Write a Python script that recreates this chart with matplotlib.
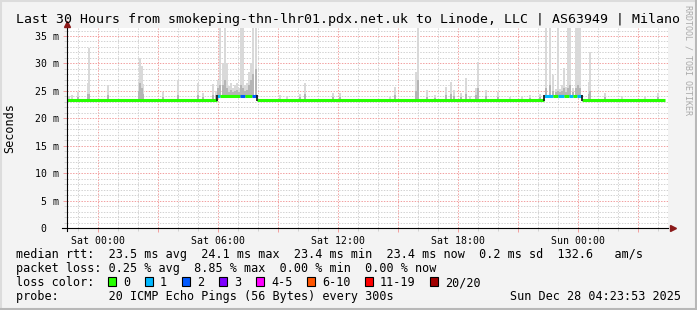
import numpy as np
import matplotlib
matplotlib.use("Agg")
import matplotlib.pyplot as plt
from matplotlib.patches import Rectangle
from matplotlib.lines import Line2D

MONO = "DejaVu Sans Mono"
W, H = 697, 310

TITLE = "Last 30 Hours from smokeping-thn-lhr01.pdx.net.uk to Linode, LLC | AS63949 | Milano"

# time axis: hours relative to Sat 00:00
X_MIN, X_MAX = -1.55, 28.5
XTICK_HOURS = [0, 6, 12, 18, 24]
XTICK_LABELS = ["Sat 00:00", "Sat 06:00", "Sat 12:00", "Sat 18:00", "Sun 00:00"]
YTICK_VALUES = [0, 5, 10, 15, 20, 25, 30, 35]
YTICK_LABELS = ["0  ", "5 m", "10 m", "15 m", "20 m", "25 m", "30 m", "35 m"]

# median rtt (ms) as steps, with loss class index
seg_start = [-1.55, 5.95, 6.10, 7.10, 7.35, 7.70, 7.95,
             22.30, 22.75, 23.00, 23.30, 23.55, 23.75, 23.95, 24.20]
seg_end   = [5.95, 6.10, 7.10, 7.35, 7.70, 7.95, 22.30,
             22.75, 23.00, 23.30, 23.55, 23.75, 23.95, 24.20, 28.35]
seg_rtt   = [23.4, 24.0, 24.0, 24.0, 24.0, 24.0, 23.4,
             24.0, 24.0, 24.0, 24.0, 24.0, 24.0, 24.0, 23.4]
seg_loss  = [0, 1, 0, 2, 0, 2, 0,
             1, 0, 1, 0, 1, 0, 1, 0]

# smoke (spread of the 20 pings per sample)
smoke_hour = [-1.45, -1.3, -1.0, -0.5, -0.43, 0.5, 2.05, 2.12, 2.2, 2.25, 3.25, 4.0, 5.0, 5.25, 5.75, 5.88,
              6.0, 6.12, 6.25, 6.35, 6.45, 6.55, 6.65, 6.75, 6.85, 6.95, 7.05, 7.15, 7.25, 7.35, 7.45, 7.55,
              7.65, 7.75, 7.88,
              9.1, 9.45, 10.1, 10.35, 11.75, 12.1, 14.6, 14.85, 15.9, 16.0, 16.45, 16.85, 17.4, 17.65, 17.8,
              18.15, 18.4, 18.6, 18.9, 19.0, 19.4, 20.0, 20.6, 21.2, 21.6, 22.1,
              22.4, 22.6, 22.75, 22.88, 22.98, 23.1, 23.22, 23.3, 23.4, 23.5, 23.6, 23.75, 23.9, 24.0, 24.12,
              24.55, 24.62, 25.35, 26.2, 27.35, 28.0]
smoke_max = [24.1, 24.2, 24.8, 26.4, 32.8, 26.0, 26.5, 30.9, 29.5, 26.2, 24.8, 26.9, 26.4, 24.7, 26.2, 25.0,
             27.0, 37, 30.0, 37, 30.0, 25.8, 26.5, 25.5, 26.0, 26.5, 25.5, 37, 37, 26.0, 26.5, 28.5,
             30.0, 37, 37,
             24.2, 24.1, 24.5, 26.4, 24.6, 24.6, 23.9, 25.7, 28.4, 37, 25.1, 24.3, 25.7, 26.6, 25.2,
             24.7, 27.3, 24.0, 25.6, 30.2, 25.1, 24.8, 23.9, 24.1, 24.3, 24.5,
             37, 37, 27.9, 25.3, 37, 25.4, 26.0, 29.2, 25.7, 37, 37, 25.5, 37, 37, 37,
             26.6, 32.0, 24.7, 24.0, 24.0, 24.6]
smoke_mid = [23.6, 23.6, 23.8, 24.5, 24.5, 24.2, 25.0, 26.5, 25.5, 24.5, 23.8, 24.2, 24.3, 23.8, 24.2, 24.2,
             25.5, 26.0, 26.0, 27.0, 25.5, 24.8, 25.2, 24.8, 25.0, 25.2, 24.8, 26.0, 25.5, 25.0, 25.2, 26.0,
             27.0, 28.0, 29.0,
             23.6, 23.6, 23.8, 24.5, 23.8, 23.8, 23.6, 24.3, 25.0, 27.0, 23.9, 23.7, 24.2, 24.5, 24.0,
             23.8, 24.5, 23.6, 24.2, 25.5, 24.0, 23.9, 23.6, 23.6, 23.7, 23.8,
             25.5, 26.0, 25.0, 24.8, 25.0, 24.8, 25.0, 25.5, 24.8, 25.5, 26.0, 24.8, 25.5, 26.0, 25.5,
             24.5, 25.0, 23.8, 23.6, 23.6, 23.8]

LOSS_LABELS = ["0", "1", "2", "3", "4-5", "6-10", "11-19", "20/20"]
LOSS_COLORS = ["#26ff00", "#00b8ff", "#0059ff", "#7e00ff", "#ff00ff", "#ff5500", "#ff0000", "#a10000"]

STATS_RTT = "median rtt:  23.5 ms avg  24.1 ms max  23.4 ms min  23.4 ms now  0.2 ms sd  132.6   am/s"
STATS_LOSS = "packet loss: 0.25 % avg  8.85 % max  0.00 % min  0.00 % now"
PROBE = "probe:       20 ICMP Echo Pings (56 Bytes) every 300s"
STAMP = "Sun Dec 28 04:23:53 2025"


def median_at(h):
    for s, e, v in zip(seg_start, seg_end, seg_rtt):
        if s <= h < e:
            return v
    return seg_rtt[-1]


def fy(y):
    return 1 - y / H


def main():
    fig = plt.figure(figsize=(W / 100, H / 100), dpi=100, facecolor="#f3f3f3")
    ax = fig.add_axes([67 / W, fy(228), (668 - 67) / W, 200 / H])
    ax.set_facecolor("white")
    ax.set_xlim(X_MIN, X_MAX)
    ax.set_ylim(0, 36.46)

    # grid
    maj_x = np.arange(0, 28, 3)
    ax.set_xticks(maj_x)
    ax.set_xticklabels([XTICK_LABELS[XTICK_HOURS.index(h)] if h in XTICK_HOURS else "" for h in maj_x],
                       family=MONO, fontsize=7.1)
    ax.set_xticks(np.arange(-1, 29, 1), minor=True)
    ax.set_yticks(YTICK_VALUES)
    ax.set_yticklabels(YTICK_LABELS, family=MONO, fontsize=7.1)
    ax.set_yticks(np.arange(0, 37, 1), minor=True)
    ax.grid(which="major", color="#f2a0a0", lw=0.72, ls=(0, (1.4, 1.4)))
    ax.grid(which="minor", color="#d2d2d2", lw=0.72, ls=(0, (1.4, 1.4)))
    ax.set_axisbelow(True)
    ax.tick_params(which="major", length=3, width=0.72, color="#f2a0a0", labelcolor="black")
    ax.tick_params(which="minor", length=2, width=0.72, color="#d2d2d2")
    ax.tick_params(axis="x", pad=3)
    ax.tick_params(axis="y", pad=3)
    for sp in ax.spines.values():
        sp.set_visible(False)

    # smoke
    base = np.array([median_at(h) - 0.1 for h in smoke_hour])
    hi = np.array(smoke_max)
    mid = np.array(smoke_mid)
    ax.bar(smoke_hour, hi - base, bottom=base, width=0.1, color="#d9d9d9", lw=0, zorder=2)
    ax.bar(smoke_hour, np.maximum(mid - base, 0), bottom=base, width=0.1, color="#b5b5b5", lw=0, zorder=2.5)

    # median line
    for s, e, v, l in zip(seg_start, seg_end, seg_rtt, seg_loss):
        ax.hlines(v, s, e, colors=LOSS_COLORS[l], lw=2.2, zorder=4)
    for i in range(1, len(seg_rtt)):
        if seg_rtt[i] != seg_rtt[i - 1]:
            lo, up = sorted([seg_rtt[i], seg_rtt[i - 1]])
            ax.vlines(seg_start[i], lo - 0.25, up + 0.25, colors="#111111", lw=1.2, zorder=5)

    # axis lines with arrows
    ax.plot([-0.0083, 1.0], [0, 0], transform=ax.transAxes, color="black", lw=0.8, clip_on=False, zorder=6)
    ax.plot([1.008], [0], marker=">", color="#8b1a1a", ms=4.5, transform=ax.transAxes, clip_on=False, zorder=6)
    ax.plot([0, 0], [-0.015, 1.01], transform=ax.transAxes, color="black", lw=0.8, clip_on=False, zorder=6)
    ax.plot([0], [1.02], marker="^", color="#8b1a1a", ms=4.5, transform=ax.transAxes, clip_on=False, zorder=6)

    # texts
    fig.text(16 / W, fy(23), TITLE, family=MONO, fontsize=9.55, va="baseline", ha="left")
    fig.text(10 / W, fy(128), "Seconds", family=MONO, fontsize=8.5, rotation=90, va="center", ha="center")
    fig.text(688 / W, fy(60), "RRDTOOL / TOBI OETIKER", family=MONO, fontsize=6, rotation=270,
             va="center", ha="center", color="#aaaaaa")
    fig.text(16 / W, fy(258), STATS_RTT, family=MONO, fontsize=8.5, va="baseline")
    fig.text(16 / W, fy(272), STATS_LOSS, family=MONO, fontsize=8.5, va="baseline")
    fig.text(16 / W, fy(286), "loss color:", family=MONO, fontsize=8.5, va="baseline")
    fig.text(16 / W, fy(300), PROBE, family=MONO, fontsize=8.5, va="baseline")
    fig.text(681 / W, fy(300), STAMP, family=MONO, fontsize=8.5, va="baseline", ha="right")

    bx = 108
    for lbl, col in zip(LOSS_LABELS, LOSS_COLORS):
        fig.patches.append(Rectangle((bx / W, fy(286)), 8 / W, 9 / H, transform=fig.transFigure,
                                     facecolor=col, edgecolor="black", lw=0.8))
        fig.text((bx + 15) / W, fy(286), lbl, family=MONO, fontsize=8.5, va="baseline")
        bx += 30 + 7 * len(lbl)

    # 3d-ish border
    for xs, ys, c in [([0, 1], [1 - 1 / H] * 2, "#dcdcdc"), ([1 / W] * 2, [0, 1], "#dcdcdc"),
                      ([0, 1], [1 / H] * 2, "#b8b8b8"), ([1 - 1 / W] * 2, [0, 1], "#b8b8b8")]:
        fig.add_artist(Line2D(xs, ys, transform=fig.transFigure, color=c, lw=1.5))

    fig.savefig("out.png", dpi=100, facecolor=fig.get_facecolor())
    plt.close(fig)


if __name__ == "__main__":
    main()
